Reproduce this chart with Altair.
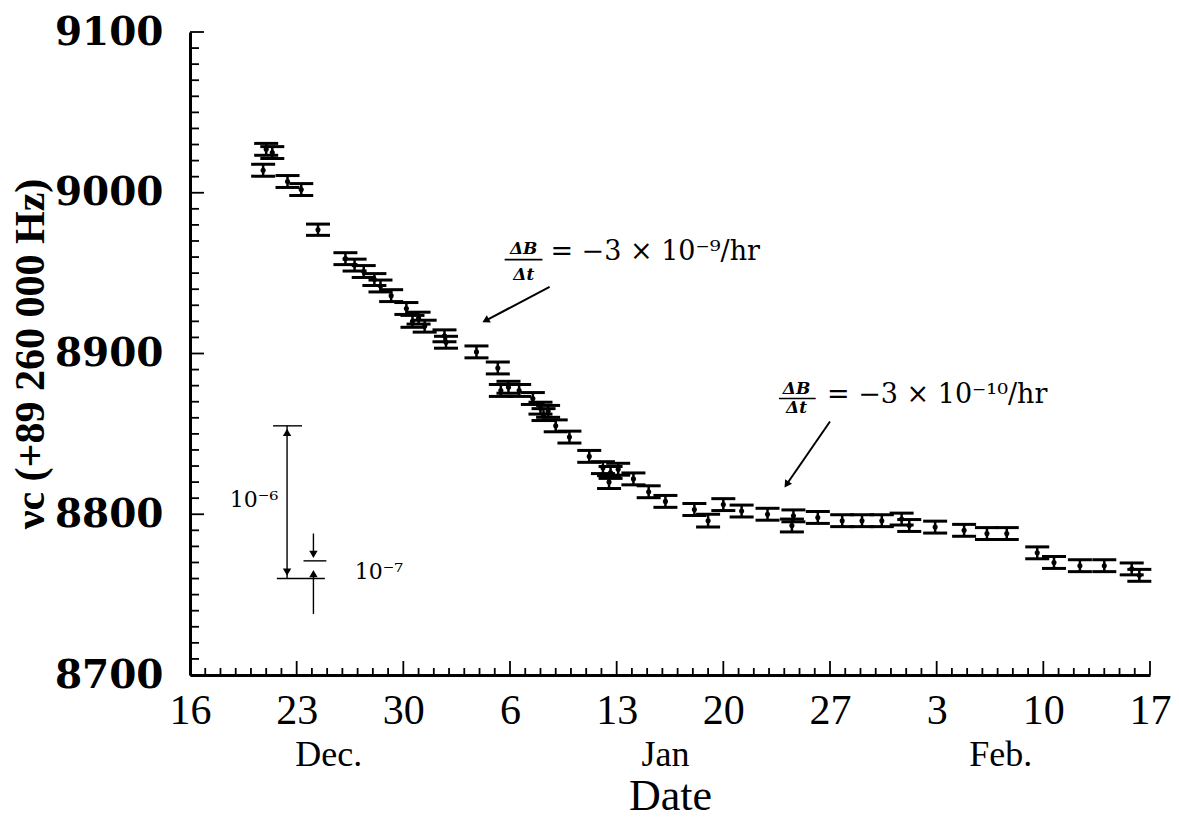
import json
import altair as alt
import pandas as pd

# ---------------- data ----------------
# day = days after 16 Dec ; freq = nu_c - 89 260 000 Hz
day = [5.0, 5.4, 4.8, 6.4, 7.3, 8.4, 10.2, 10.8, 11.4, 12.1, 12.5, 13.2, 14.2, 14.6,
       15.0, 15.4, 16.7, 16.8, 18.8, 20.2, 20.4, 20.9, 21.6, 22.5, 23.0, 23.2, 23.5,
       24.0, 24.9, 26.2, 27.1, 27.6, 28.1, 27.5, 29.1, 30.1, 31.2, 33.1, 34.0, 35.0,
       36.2, 37.9, 39.6, 39.5, 41.2, 42.8, 44.1, 45.4, 46.7, 47.2, 48.9, 50.8, 52.3,
       53.6, 55.6, 56.7, 58.4, 60.0, 61.8, 62.3]
freq = [9027, 9025, 9014, 9007, 9002, 8977, 8959, 8955, 8951, 8946, 8942, 8936, 8928, 8920,
        8922, 8917, 8911, 8907, 8901, 8891, 8877, 8879, 8877, 8872, 8866, 8862, 8864,
        8855, 8848, 8836, 8829, 8826, 8828, 8820, 8822, 8814, 8808, 8803, 8796, 8806,
        8802, 8800, 8799, 8793, 8798, 8796, 8796, 8796, 8797, 8793, 8792, 8790, 8788,
        8788, 8776, 8770, 8768, 8768, 8766, 8762]
err = [3.7, 3.7, 3.7, 3.7, 3.7, 3.5, 3.7, 3.7, 3.7, 3.7, 3.7, 3.7, 3.7, 3.7,
       3.7, 3.7, 3.7, 3.7, 3.7, 3.7, 3.7, 3.7, 3.7, 3.7, 3.7, 3.7, 3.7,
       3.7, 3.7, 3.7, 3.7, 3.7, 3.7, 4.0, 3.7, 3.7, 3.7, 3.7, 4.0, 3.7,
       3.7, 3.7, 3.7, 4.0, 3.7, 3.7, 3.7, 3.7, 3.7, 3.7, 3.7, 3.7, 3.7,
       3.7, 3.7, 3.7, 3.7, 3.7, 3.7, 3.7]

x_major_days = [0, 7, 14, 21, 28, 35, 42, 49, 56, 63]
x_tick_labels = ["16", "23", "30", "6", "13", "20", "27", "3", "10", "17"]
x_minor_days = [d for d in range(0, 64) if d % 7 != 0]
y_major_vals = [8700, 8800, 8900, 9000, 9100]
y_minor_vals = [v for v in range(8700, 9101, 10) if v % 100 != 0]

month_names = ["Dec.", "Jan", "Feb."]
month_days = [9.1, 31.2, 53.2]

# annotation texts
frac_text = ["ΔB", "Δt", "ΔB", "Δt"]
frac_day = [21.9, 21.9, 39.8, 39.8]
frac_freq = [8965, 8949, 8878, 8866]
rate_text = ["= −3 × 10⁻⁹/hr", "= −3 × 10⁻¹⁰/hr"]
rate_day = [23.65, 41.8]
rate_freq = [8963, 8874]
scale_text = ["10⁻⁶", "10⁻⁷"]
scale_day = [4.2, 12.4]
scale_freq = [8809, 8764]

# annotation line segments (start day, start freq, end day, end freq)
seg_d1 = [23.6, 42.0, 20.65, 38.65, 6.37, 5.45, 5.7, 7.45, 8.1, 8.1]
seg_f1 = [8941.4, 8857.7, 8958.4, 8872.0, 8855, 8855, 8760, 8771, 8788, 8738]
seg_d2 = [19.4, 39.15, 23.13, 41.06, 6.37, 7.35, 8.85, 8.95, 8.1, 8.1]
seg_f2 = [8920.5, 8818.5, 8958.4, 8872.0, 8760, 8855, 8760, 8771, 8774, 8762]
seg_kind = ["arrow", "arrow", "frac", "frac", "bar", "bar", "bar", "bar", "bar", "bar"]

head_day = [19.4, 39.15, 6.37, 6.37, 8.1, 8.1]
head_freq = [8920.5, 8818.5, 8851, 8764, 8775, 8763]
head_angle = [241.5, 213.9, 0, 180, 180, 0]

# ---------------- chart ----------------
W, H = 960, 643
SERIF = "Liberation Serif"
X0, X1, Y0, Y1 = 0, 63, 8700, 9100
xs = alt.Scale(domain=[X0, X1], nice=False, zero=False)
ys = alt.Scale(domain=[Y0, Y1], nice=False, zero=False)
PX_Y = (Y1 - Y0) / H   # data units per pixel, y
PX_X = (X1 - X0) / W   # data units per pixel, x

df = pd.DataFrame({"day": day, "freq": freq,
                   "lo": [f - e for f, e in zip(freq, err)],
                   "hi": [f + e for f, e in zip(freq, err)]})

label_expr = json.dumps(x_tick_labels) + "[round(datum.value / 7)]"

x_axis = alt.Axis(values=x_major_days, labelExpr=label_expr, ticks=False, grid=False,
                  domain=True, domainColor="black", domainWidth=3,
                  labelFont=SERIF, labelFontSize=42, labelColor="black",
                  labelPadding=15, labelFlush=False,
                  title="Date", titleFont=SERIF, titleFontSize=44, titleFontWeight="normal",
                  titleColor="black", titlePadding=43)
y_axis = alt.Axis(values=y_major_vals, ticks=False, grid=False, format="d",
                  domain=True, domainColor="black", domainWidth=3,
                  labelFont="DejaVu Serif", labelFontSize=39, labelFontWeight="bold",
                  labelColor="black", labelPadding=27, labelFlush=False,
                  title="νc (+89 260 000 Hz)", titleFont=SERIF, titleFontSize=42,
                  titleFontWeight="bold", titleColor="black", titlePadding=2)


def X(field="day"):
    return alt.X(f"{field}:Q", scale=xs, axis=x_axis)


def Y(field="freq"):
    return alt.Y(f"{field}:Q", scale=ys, axis=y_axis)


bars = alt.Chart(df).mark_rule(color="black", strokeWidth=2.5).encode(
    x=X(), y=Y("lo"), y2="hi:Q")
cap_lo = alt.Chart(df).mark_tick(orient="horizontal", color="black", size=24,
                                 thickness=3, opacity=1).encode(x=X(), y=Y("lo"))
cap_hi = alt.Chart(df).mark_tick(orient="horizontal", color="black", size=24,
                                 thickness=3, opacity=1).encode(x=X(), y=Y("hi"))
dots = alt.Chart(df).mark_point(filled=True, color="black", size=26, opacity=1).encode(
    x=X(), y=Y())


# inward axis ticks as tick marks centred half a tick length inside the frame
def xtick_layer(days, length):
    d = pd.DataFrame({"day": days, "freq": [Y0 + PX_Y * length / 2] * len(days)})
    return alt.Chart(d).mark_tick(orient="vertical", color="black", size=length,
                                  thickness=1.8, opacity=1).encode(x=X(), y=Y())


def ytick_layer(vals, length):
    d = pd.DataFrame({"freq": vals, "day": [X0 + PX_X * length / 2] * len(vals)})
    return alt.Chart(d).mark_tick(orient="horizontal", color="black", size=length,
                                  thickness=1.8, opacity=1).encode(x=X(), y=Y())


ticks = [xtick_layer(x_minor_days, 7), xtick_layer(x_major_days, 14),
         ytick_layer(y_minor_vals, 9), ytick_layer(y_major_vals, 14)]

seg_df = pd.DataFrame({"day": seg_d1, "freq": seg_f1, "day2": seg_d2, "freq2": seg_f2,
                       "kind": seg_kind})
segs = alt.Chart(seg_df).mark_rule(color="black").encode(
    x=X(), y=Y(), x2="day2:Q", y2="freq2:Q",
    strokeWidth=alt.StrokeWidth("kind:N", scale=alt.Scale(
        domain=["arrow", "frac", "bar"], range=[2, 1.4, 2.4]), legend=None))

heads = alt.Chart(pd.DataFrame({"day": head_day, "freq": head_freq, "ang": head_angle})).mark_point(
    shape="triangle-up", filled=True, color="black", size=70, opacity=1).encode(
    x=X(), y=Y(), angle=alt.Angle("ang:Q", scale=None))

frac = alt.Chart(pd.DataFrame({"day": frac_day, "freq": frac_freq, "t": frac_text})).mark_text(
    font="DejaVu Serif", fontSize=17, fontWeight="bold", fontStyle="italic",
    align="center", baseline="middle", color="black").encode(x=X(), y=Y(), text="t:N")
rate = alt.Chart(pd.DataFrame({"day": rate_day, "freq": rate_freq, "t": rate_text})).mark_text(
    font="DejaVu Serif", fontSize=27, align="left", baseline="middle", color="black").encode(
    x=X(), y=Y(), text="t:N")
scl = alt.Chart(pd.DataFrame({"day": scale_day, "freq": scale_freq, "t": scale_text})).mark_text(
    font="DejaVu Serif", fontSize=22, align="center", baseline="middle", color="black").encode(
    x=X(), y=Y(), text="t:N")
months = alt.Chart(pd.DataFrame({"day": month_days, "t": month_names})).mark_text(
    font=SERIF, fontSize=36, align="center", baseline="middle", color="black").encode(
    x=X(), y=alt.value(H + 80), text="t:N")

chart = alt.layer(bars, cap_lo, cap_hi, dots, *ticks, segs, heads, frac, rate, scl,
                  months).properties(
    width=W, height=H,
    autosize=alt.AutoSizeParams(type="none"),
    padding={"left": 182, "top": 24, "right": 21, "bottom": 152},
    background="white",
).configure_view(stroke=None)

chart.save("out.html", embed_options={"renderer": "svg", "actions": False})
